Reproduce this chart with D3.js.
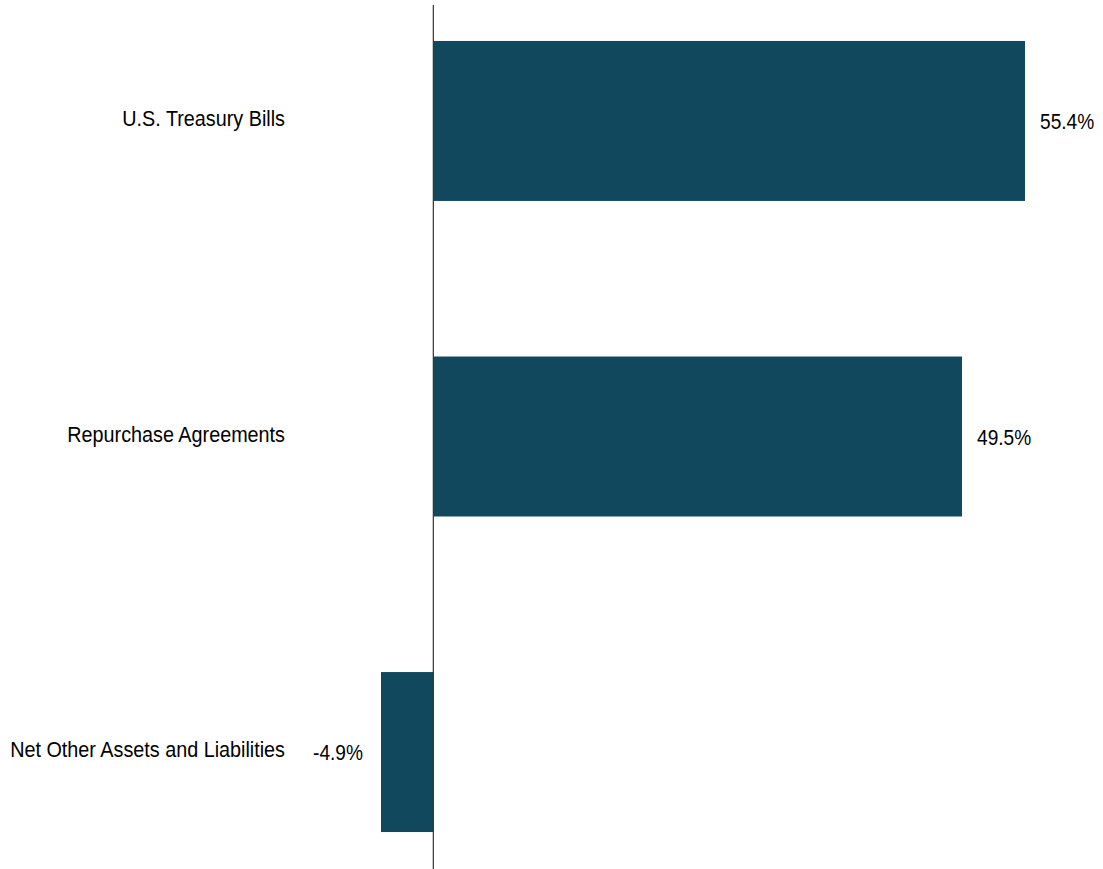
<!DOCTYPE html>
<html>
<head>
<meta charset="utf-8">
<script src="https://cdn.jsdelivr.net/npm/d3@7"></script>
<style>
  html, body { margin: 0; padding: 0; background: #fff; }
  svg { display: block; }
  text { font-family: "Liberation Sans", Arial, sans-serif; fill: #000; }
</style>
</head>
<body>
<svg id="chart" width="1103" height="869"></svg>
<script>
const categories = ["U.S. Treasury Bills", "Repurchase Agreements", "Net Other Assets and Liabilities"];
const values = [55.4, 49.5, -4.9];
const valueLabels = ["55.4%", "49.5%", "-4.9%"];

const svg = d3.select("#chart");
const W = 1103, H = 869;

const x = d3.scaleLinear()
  .domain([Math.min(0, d3.min(values)), Math.max(0, d3.max(values))])
  .range([381, 1025]);

const y = d3.scaleBand()
  .domain(categories)
  .range([5, 868])
  .paddingInner(0.493)
  .paddingOuter(0.114);

const data = categories.map((c, i) => ({ c, v: values[i], lab: valueLabels[i] }));

svg.selectAll("rect.bar").data(data).join("rect")
  .attr("class", "bar")
  .attr("x", d => x(Math.min(0, d.v)))
  .attr("width", d => Math.abs(x(d.v) - x(0)))
  .attr("y", d => y(d.c))
  .attr("height", y.bandwidth())
  .attr("fill", "#12485e");

// zero axis line
svg.append("line")
  .attr("x1", x(0)).attr("x2", x(0))
  .attr("y1", 5).attr("y2", H)
  .attr("stroke", "#333").attr("stroke-width", 1.2);

const fs = 22;

// category labels
svg.selectAll("text.cat").data(data).join("text")
  .attr("class", "cat")
  .attr("text-anchor", "end")
  .attr("font-size", fs)
  .attr("transform", d => `translate(285, ${y(d.c) + y.bandwidth() / 2 + 5}) scale(0.9,1)`)
  .text(d => d.c);

// value labels
svg.selectAll("text.val").data(data).join("text")
  .attr("class", "val")
  .attr("font-size", fs)
  .attr("text-anchor", d => d.v >= 0 ? "start" : "end")
  .attr("transform", d => {
    const px = d.v >= 0 ? x(d.v) + 15 : x(d.v) - 18;
    return `translate(${px}, ${y(d.c) + y.bandwidth() / 2 + 8}) scale(0.87,1)`;
  })
  .text(d => d.lab);
</script>
</body>
</html>
